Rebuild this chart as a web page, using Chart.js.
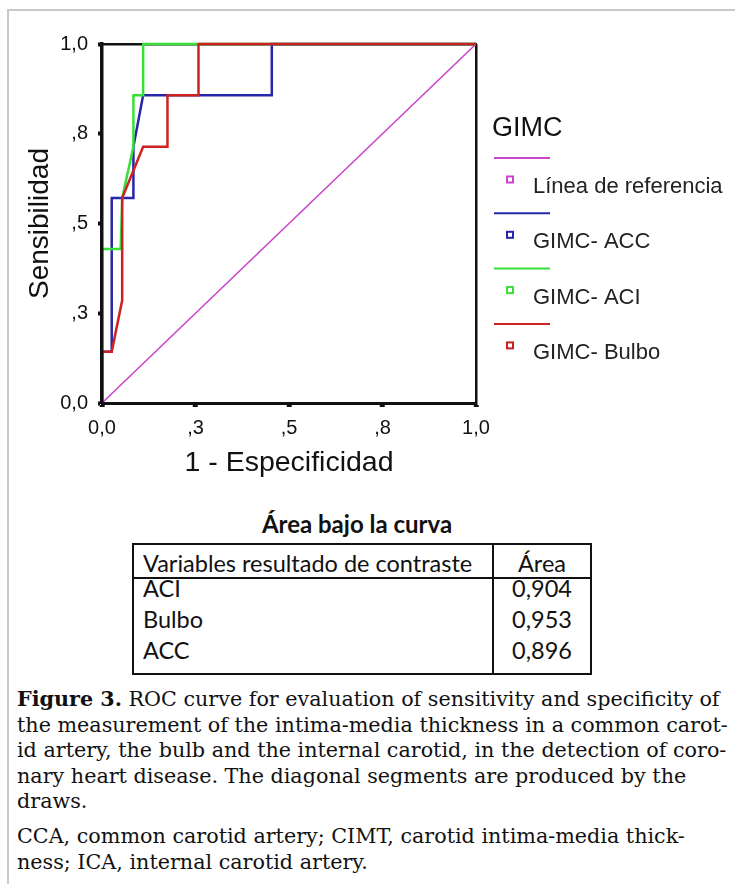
<!DOCTYPE html>
<html>
<head>
<meta charset="utf-8">
<script src="https://cdn.jsdelivr.net/npm/chart.js@4.4.1/dist/chart.umd.min.js"></script>
<style>
  body { margin: 0; width: 735px; height: 884px; position: relative; background: #fff; overflow: hidden; }
  #frame { position: absolute; left: 7px; top: 9px; width: 740px; height: 890px; border-top: 2px solid #c8c8c8; border-left: 2px solid #c8c8c8; }
  #roc { position: absolute; left: 0; top: 0; }
  .cell { position: absolute; font-family: Lato, "Open Sans", sans-serif; font-size: 23.5px; line-height: 28px; color: #111; white-space: nowrap; }
  .rule { position: absolute; background: #111; }
  #caption { position: absolute; left: 17px; top: 687px; font-family: "DejaVu Serif", serif; font-size: 20.7px; line-height: 25.6px; color: #111; white-space: nowrap; }
  #caption p { margin: 0; }
  #caption p + p { margin-top: 9px; }
</style>
</head>
<body>
<div id="frame"></div>
<canvas id="roc" width="735" height="480"></canvas>
<div id="tabla"></div>
<div id="caption">
  <p><b>Figure 3.</b> ROC curve for evaluation of sensitivity and specificity of<br>the measurement of the intima-media thickness in a common carot-<br>id artery, the bulb and the internal carotid, in the detection of coro-<br>nary heart disease. The diagonal segments are produced by the<br>draws.</p>
  <p>CCA, common carotid artery; CIMT, carotid intima-media thick-<br>ness; ICA, internal carotid artery.</p>
</div>
<script>
// ROC points (1 - especificidad, sensibilidad)
const refFpr = [0, 1];
const refSens = [0, 1];
const accFpr = [0, 0, 0.026, 0.026, 0.084, 0.084, 0.11, 0.454, 0.454, 1];
const accSens = [0, 0.143, 0.143, 0.571, 0.571, 0.714, 0.857, 0.857, 1, 1];
const aciFpr = [0, 0, 0.05, 0.054, 0.084, 0.084, 0.11, 0.11, 1];
const aciSens = [0, 0.429, 0.429, 0.571, 0.714, 0.857, 0.857, 1, 1];
const bulboFpr = [0, 0, 0.026, 0.054, 0.054, 0.11, 0.175, 0.175, 0.258, 0.258, 1];
const bulboSens = [0, 0.143, 0.143, 0.286, 0.571, 0.714, 0.714, 0.857, 0.857, 1, 1];

const tickValues = [0, 0.25, 0.5, 0.75, 1];
const tickLabels = ["0,0", ",3", ",5", ",8", "1,0"];

const legendTitle = "GIMC";
const seriesNames = ["Línea de referencia", "GIMC- ACC", "GIMC- ACI", "GIMC- Bulbo"];
const seriesColors = ["#cc44cc", "#2626aa", "#38df38", "#cc2222"];

const tableTitle = "Área bajo la curva";
const tableHeader = ["Variables resultado de contraste", "Área"];
const areaVars = ["ACI", "Bulbo", "ACC"];
const areaValues = ["0,904", "0,953", "0,896"];

function toPoints(xs, ys) {
  return xs.map((x, i) => ({ x: x, y: ys[i] }));
}

// only the line at value 1 is shown (right edge of the frame)
const edgeOnly = ctx => (ctx.tick && ctx.tick.value === 1 ? "#111" : "rgba(0,0,0,0)");

function quarterTicks(scale) {
  scale.ticks = tickValues.map(v => ({ value: v }));
}

// legend drawn the way SPSS lays it out: line, then a small square + name
const spssLegend = {
  id: "spssLegend",
  afterDraw(chart) {
    const ctx = chart.ctx;
    ctx.save();
    ctx.fillStyle = "#111";
    ctx.font = '27px "Liberation Sans", Arial, sans-serif';
    ctx.textBaseline = "alphabetic";
    ctx.fillText(legendTitle, 492, 136);
    ctx.font = '22px "Liberation Sans", Arial, sans-serif';
    chart.data.datasets.forEach((ds, i) => {
      const y = 158 + i * 55.3;
      ctx.strokeStyle = ds.borderColor;
      ctx.lineWidth = 2;
      ctx.beginPath();
      ctx.moveTo(494, y);
      ctx.lineTo(550, y);
      ctx.stroke();
      ctx.strokeRect(507, y + 18.5, 6, 6);
      ctx.fillStyle = "#222";
      ctx.fillText(ds.label, 533, y + 35);
    });
    ctx.restore();
  }
};

const series = [
  [refFpr, refSens, 1.6, 3],
  [accFpr, accSens, 2.5, 2],
  [aciFpr, aciSens, 2.5, 1],
  [bulboFpr, bulboSens, 2.5, 0]
];

Chart.defaults.font.family = '"Liberation Sans", Arial, sans-serif';
Chart.defaults.color = "#111";

new Chart(document.getElementById("roc"), {
  type: "scatter",
  data: {
    datasets: series.map((s, i) => ({
      label: seriesNames[i],
      data: toPoints(s[0], s[1]),
      borderColor: seriesColors[i],
      backgroundColor: seriesColors[i],
      borderWidth: s[2],
      order: s[3],
      showLine: true,
      pointRadius: 0,
      tension: 0,
      clip: false
    }))
  },
  options: {
    responsive: false,
    animation: false,
    layout: { padding: { top: 44, right: 259, left: 0, bottom: 0 } },
    plugins: { legend: { display: false }, tooltip: { enabled: false } },
    scales: {
      x: {
        type: "linear",
        min: 0,
        max: 1,
        afterFit: scale => { scale.height = 77; },
        afterBuildTicks: quarterTicks,
        ticks: {
          font: { size: 20 },
          padding: 9,
          maxRotation: 0,
          callback: (v, i) => tickLabels[i]
        },
        grid: { color: edgeOnly, lineWidth: 2.5, tickColor: "#111", tickWidth: 5, tickLength: 4 },
        border: { display: true, color: "#111", width: 3, z: 1 },
        title: { display: true, text: "1 - Especificidad", font: { size: 28.5 }, padding: { bottom: 0 } }
      },
      // top edge of the frame, drawn under the curves
      top: {
        type: "linear",
        position: "top",
        min: 0,
        max: 1,
        afterFit: scale => { scale.height = 0; },
        ticks: { display: false },
        grid: { display: false, drawTicks: false },
        border: { display: true, color: "#111", width: 2.5 }
      },
      // left axis line sits over the curves, as in the original
      y: {
        type: "linear",
        min: 0,
        max: 1,
        afterFit: scale => { scale.width = 102; },
        afterBuildTicks: quarterTicks,
        ticks: {
          font: { size: 20 },
          padding: 10,
          callback: (v, i) => tickLabels[i]
        },
        grid: { drawOnChartArea: false, tickColor: "#111", tickWidth: 4, tickLength: 4 },
        border: { display: true, color: "#111", width: 3.5, z: 1 },
        title: { display: true, text: "Sensibilidad", font: { size: 28 }, padding: { top: 23 } }
      }
    }
  },
  plugins: [spssLegend]
});

// area-under-curve table
const tabla = document.getElementById("tabla");
function addCell(text, left, top, width, align, bold) {
  const d = document.createElement("div");
  d.className = "cell";
  d.textContent = text;
  d.style.left = left + "px";
  d.style.top = top + "px";
  d.style.width = width + "px";
  d.style.textAlign = align;
  if (bold) {
    d.style.fontWeight = "bold";
    d.style.fontSize = "24px";
    d.style.lineHeight = "29px";
  }
  tabla.appendChild(d);
}
function addRule(left, top, width, height) {
  const d = document.createElement("div");
  d.className = "rule";
  d.style.left = left + "px";
  d.style.top = top + "px";
  d.style.width = width + "px";
  d.style.height = height + "px";
  tabla.appendChild(d);
}
addCell(tableTitle, 127, 509, 460, "center", true);
addRule(132, 543, 460, 2);
addRule(132, 673, 460, 2);
addRule(132, 543, 2, 132);
addRule(590, 543, 2, 132);
addRule(492, 543, 2, 132);
addRule(132, 577, 460, 2);
addCell(tableHeader[0], 143, 548.6, 345, "left");
addCell(tableHeader[1], 494, 548.6, 96, "center");
areaVars.forEach((name, i) => {
  const top = 574 + i * 31;
  addCell(name, 143, top, 345, "left");
  addCell(areaValues[i], 494, top, 96, "center");
});
</script>
</body>
</html>
